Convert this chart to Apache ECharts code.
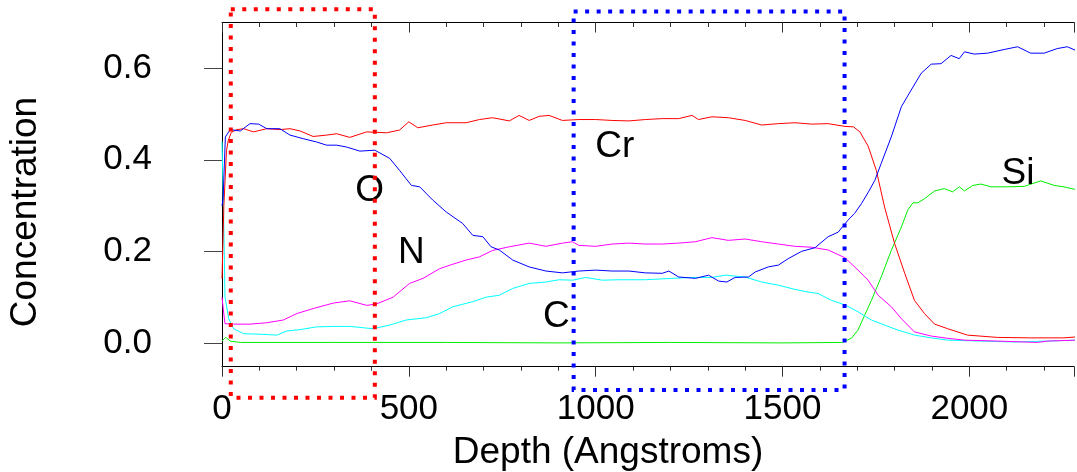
<!DOCTYPE html>
<html>
<head>
<meta charset="utf-8">
<title>Depth profile</title>
<script src="https://cdn.jsdelivr.net/npm/echarts@6/dist/echarts.min.js"></script>
<style>
  html, body { margin: 0; padding: 0; background: #fff; }
  #chart { width: 1077px; height: 472px; }
</style>
</head>
<body>
<div id="chart"></div>
<script>
// depth (Angstroms), concentration
const crData = [[0,0.14],[5,0.30],[12,0.42],[17,0.443],[25,0.46],[40,0.466],[58,0.468],[84,0.461],[120,0.468],[155,0.466],[182,0.468],[209,0.463],[244,0.451],[280,0.454],[307,0.457],[342,0.449],[387,0.461],[440,0.459],[475,0.465],[500,0.483],[524,0.470],[564,0.476],[600,0.481],[653,0.481],[689,0.488],[724,0.492],[769,0.485],[795,0.497],[822,0.486],[849,0.495],[875,0.497],[911,0.486],[955,0.488],[1000,0.488],[1044,0.486],[1089,0.485],[1133,0.488],[1178,0.490],[1222,0.490],[1258,0.497],[1275,0.488],[1311,0.494],[1355,0.492],[1400,0.486],[1444,0.476],[1489,0.479],[1533,0.481],[1578,0.478],[1622,0.479],[1667,0.473],[1690,0.472],[1707,0.461],[1729,0.43],[1751,0.377],[1773,0.297],[1800,0.217],[1827,0.152],[1853,0.093],[1880,0.064],[1907,0.041],[1942,0.031],[1995,0.017],[2075,0.012],[2164,0.011],[2253,0.011],[2285,0.013]]
const oData = [[0,0.30],[3,0.315],[9,0.45],[22,0.466],[49,0.463],[75,0.479],[98,0.478],[120,0.468],[155,0.468],[182,0.454],[218,0.446],[253,0.439],[280,0.432],[307,0.432],[333,0.428],[369,0.419],[409,0.421],[449,0.403],[475,0.377],[507,0.344],[529,0.341],[564,0.312],[600,0.286],[644,0.261],[671,0.235],[698,0.232],[720,0.210],[742,0.203],[778,0.181],[822,0.166],[867,0.157],[911,0.153],[955,0.157],[1000,0.159],[1044,0.157],[1089,0.157],[1133,0.153],[1178,0.152],[1196,0.157],[1222,0.144],[1267,0.141],[1302,0.148],[1329,0.135],[1351,0.133],[1373,0.143],[1409,0.144],[1427,0.155],[1462,0.166],[1489,0.170],[1515,0.184],[1551,0.200],[1587,0.208],[1622,0.232],[1649,0.242],[1675,0.268],[1693,0.283],[1711,0.304],[1730,0.33],[1747,0.355],[1764,0.392],[1791,0.450],[1818,0.516],[1844,0.552],[1871,0.589],[1898,0.609],[1924,0.610],[1951,0.628],[1973,0.621],[1987,0.636],[2013,0.631],[2049,0.633],[2093,0.641],[2129,0.647],[2164,0.633],[2200,0.633],[2235,0.643],[2262,0.647],[2285,0.639]]
const nData = [[0,0.10],[4,0.07],[8,0.042],[31,0.041],[75,0.041],[120,0.044],[164,0.050],[200,0.064],[244,0.075],[298,0.087],[342,0.092],[387,0.082],[413,0.085],[458,0.100],[502,0.130],[538,0.141],[582,0.162],[618,0.172],[653,0.181],[689,0.188],[724,0.202],[769,0.210],[822,0.218],[867,0.211],[911,0.218],[938,0.221],[955,0.213],[1000,0.211],[1044,0.216],[1089,0.218],[1133,0.216],[1178,0.216],[1222,0.218],[1267,0.221],[1311,0.230],[1355,0.224],[1400,0.227],[1444,0.221],[1489,0.216],[1533,0.211],[1578,0.209],[1622,0.203],[1667,0.186],[1702,0.159],[1729,0.137],[1756,0.104],[1791,0.079],[1818,0.053],[1853,0.024],[1898,0.015],[1942,0.010],[1987,0.006],[2075,0.004],[2182,0.001],[2209,0.004],[2285,0.006]]
const cData = [[0,0.44],[4,0.30],[8,0.10],[18,0.053],[31,0.031],[58,0.020],[102,0.019],[147,0.017],[173,0.026],[209,0.029],[253,0.035],[298,0.036],[342,0.036],[404,0.031],[449,0.039],[493,0.050],[547,0.055],[582,0.064],[618,0.079],[671,0.090],[707,0.100],[742,0.104],[778,0.119],[822,0.130],[867,0.133],[902,0.138],[938,0.137],[973,0.143],[1018,0.137],[1062,0.138],[1133,0.138],[1204,0.141],[1258,0.143],[1311,0.143],[1347,0.148],[1400,0.144],[1444,0.133],[1489,0.126],[1533,0.117],[1569,0.111],[1595,0.108],[1631,0.093],[1667,0.083],[1702,0.068],[1738,0.050],[1773,0.039],[1809,0.028],[1853,0.017],[1898,0.011],[1942,0.006],[2031,0.004],[2120,0.002],[2209,0.004],[2285,0.006]]
const siData = [[0,0.004],[10,0.012],[22,0.004],[49,0.001],[300,0.001],[600,0.001],[900,0.0],[1200,0.001],[1500,0.0],[1660,0.001],[1684,0.010],[1702,0.028],[1720,0.061],[1738,0.093],[1764,0.144],[1791,0.202],[1818,0.253],[1835,0.290],[1849,0.306],[1862,0.306],[1880,0.315],[1907,0.332],[1933,0.337],[1955,0.330],[1973,0.341],[1987,0.332],[2009,0.344],[2031,0.347],[2058,0.341],[2102,0.341],[2147,0.342],[2191,0.354],[2227,0.344],[2253,0.341],[2285,0.335]]

const yTicks = [0, 0.2, 0.4, 0.6]
const xLabelStep = 500
const xMinorStep = 100

// element names written inside the plot
const labelNames = ['Cr', 'O', 'N', 'C', 'Si']
const labelDepth = [1051, 395, 507, 895, 2130]
const labelConc = [0.428, 0.333, 0.197, 0.057, 0.370]

// dotted boxes: [depthFrom, depthTo, concFrom, concTo]
const redBox = [23.5, 409, -0.120, 0.729]
const blueBox = [941, 1666, -0.103, 0.724]

const font = "'Liberation Sans', Arial, sans-serif"
const black = '#000'
const tickColor = '#333'

const chart = echarts.init(document.getElementById('chart'))

function line(name, data, color) {
  return {
    name: name,
    type: 'line',
    data: data,
    showSymbol: false,
    symbol: 'none',
    lineStyle: { color: color, width: 1 },
    itemStyle: { color: color },
  }
}

// the plot is cut at the right edge of the picture (about 2280 A)
function xAxis(position, step, tickLen, inside, withLine, withLabels) {
  return {
    type: 'value',
    position: position,
    min: 0,
    max: 2280,
    interval: step,
    splitLine: { show: false },
    axisLine: { show: withLine, onZero: false, lineStyle: { color: black, width: 1 } },
    axisTick: { show: true, inside: inside, length: tickLen, lineStyle: { color: tickColor } },
    axisLabel: {
      show: withLabels,
      margin: 25,
      color: black,
      fontSize: 35,
      fontFamily: font,
      formatter: (v) => (v % xLabelStep === 0 ? String(v) : ''),
    },
  }
}

chart.setOption({
  animation: false,
  backgroundColor: '#fff',
  grid: { left: 222, top: 22.5, right: 0, bottom: 105.3 },
  xAxis: [
    xAxis('bottom', xMinorStep, 4, false, true, true),
    xAxis('bottom', xLabelStep, 10, false, false, false),
    xAxis('top', xMinorStep, 4.5, true, true, false),
    xAxis('top', xLabelStep, 10, true, false, false),
  ],
  yAxis: {
    type: 'value',
    min: -0.052,
    max: 0.70,
    splitLine: { show: false },
    axisLine: { show: true, onZero: false, lineStyle: { color: black, width: 1 } },
    axisTick: { show: true, length: 18, customValues: yTicks, lineStyle: { color: '#444' } },
    axisLabel: {
      customValues: yTicks,
      margin: 70,
      color: black,
      fontSize: 35,
      fontFamily: font,
      formatter: (v) => v.toFixed(1),
    },
  },
  series: [
    line('Si', siData, '#00ee00'),
    line('C', cData, '#00ffff'),
    line('N', nData, '#ff00ff'),
    line('Cr', crData, '#ff0000'),
    line('O', oData, '#0000ff'),
  ],
})

// annotations placed through the axes
function toPx(d, v) {
  return chart.convertToPixel({ xAxisIndex: 0, yAxisIndex: 0 }, [d, v])
}

function boxGraphic(box, color) {
  const a = toPx(box[0], box[3])
  const b = toPx(box[1], box[2])
  return {
    type: 'rect',
    z: 100,
    shape: { x: a[0], y: a[1], width: b[0] - a[0], height: b[1] - a[1] },
    style: { fill: null, stroke: color, lineWidth: 4, lineDash: [4, 7.5] },
  }
}

function textGraphic(text, x, y, size, rotation) {
  return {
    type: 'text',
    z: 100,
    x: x,
    y: y,
    rotation: rotation || 0,
    style: {
      text: text,
      fill: black,
      font: size + 'px ' + font,
      textAlign: 'center',
      textVerticalAlign: 'middle',
      align: 'center',
      verticalAlign: 'middle',
    },
  }
}

const graphics = labelNames.map((n, i) => {
  const p = toPx(labelDepth[i], labelConc[i])
  return textGraphic(n, p[0], p[1], 37)
})
graphics.push(textGraphic('Depth (Angstroms)', 608, 453, 37))
graphics.push(textGraphic('Concentration', 25.5, 212, 37, Math.PI / 2))
graphics.push(boxGraphic(redBox, '#ff0000'))
graphics.push(boxGraphic(blueBox, '#0000ff'))

chart.setOption({ graphic: graphics })

window.addEventListener('resize', () => chart.resize())
</script>
</body>
</html>
